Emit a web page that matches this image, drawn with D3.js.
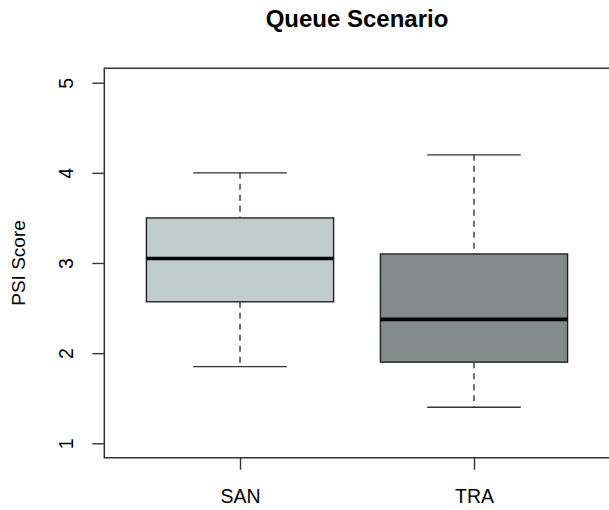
<!DOCTYPE html>
<html>
<head>
<meta charset="utf-8">
<script src="https://cdn.jsdelivr.net/npm/d3@7"></script>
<style>
  html, body { margin: 0; padding: 0; background: #fff; overflow: hidden; }
  svg { display: block; overflow: hidden; font-family: "Liberation Sans", Arial, Helvetica, sans-serif; }
</style>
</head>
<body>
<svg id="chart" width="609" height="510"></svg>
<script>
// box statistics
const categories = ["SAN", "TRA"];
const lowerWhisker = [1.85, 1.4];
const q1 = [2.57, 1.9];
const median = [3.05, 2.375];
const q3 = [3.5, 3.1];
const upperWhisker = [4.0, 4.2];
const fills = ["#C1CDCD", "#838B8B"];
const yTicks = [1, 2, 3, 4, 5];

const svg = d3.select("#chart");
const plot = { left: 104.3, right: 609.7, top: 68.3, bottom: 457.7 };

// R style ranges: 4% padding around [0.5, 2.5] and [1, 5]
const x = d3.scaleLinear().domain([0.42, 2.58]).range([plot.left, plot.right]);
const y = d3.scaleLinear().domain([0.84, 5.16]).range([plot.bottom, plot.top]);

const boxes = categories.map((c, i) => ({
  name: c,
  pos: i + 1,
  lo: lowerWhisker[i],
  q1: q1[i],
  med: median[i],
  q3: q3[i],
  hi: upperWhisker[i],
  fill: fills[i],
}));

const g = svg.append("g");

const box = g.selectAll("g.box").data(boxes).enter().append("g").attr("class", "box");

// dashed whiskers
box.append("line")
  .attr("x1", (d) => x(d.pos)).attr("x2", (d) => x(d.pos))
  .attr("y1", (d) => y(d.hi)).attr("y2", (d) => y(d.q3))
  .attr("stroke", "#333").attr("stroke-width", 1.4).attr("stroke-dasharray", "6,5");
box.append("line")
  .attr("x1", (d) => x(d.pos)).attr("x2", (d) => x(d.pos))
  .attr("y1", (d) => y(d.q1)).attr("y2", (d) => y(d.lo))
  .attr("stroke", "#333").attr("stroke-width", 1.4).attr("stroke-dasharray", "6,5");

// staples
["hi", "lo"].forEach((k) => {
  box.append("line")
    .attr("x1", (d) => x(d.pos - 0.2)).attr("x2", (d) => x(d.pos + 0.2))
    .attr("y1", (d) => y(d[k])).attr("y2", (d) => y(d[k]))
    .attr("stroke", "#333").attr("stroke-width", 1.4);
});

// boxes
box.append("rect")
  .attr("x", (d) => x(d.pos - 0.4))
  .attr("width", (d) => x(d.pos + 0.4) - x(d.pos - 0.4))
  .attr("y", (d) => y(d.q3))
  .attr("height", (d) => y(d.q1) - y(d.q3))
  .attr("fill", (d) => d.fill)
  .attr("stroke", "#222").attr("stroke-width", 1.4);

// medians
box.append("line")
  .attr("x1", (d) => x(d.pos - 0.4)).attr("x2", (d) => x(d.pos + 0.4))
  .attr("y1", (d) => y(d.med)).attr("y2", (d) => y(d.med))
  .attr("stroke", "#000").attr("stroke-width", 3.6);

// frame: left, top and bottom only; the right side is cut off in the original
g.append("path")
  .attr("d", `M${plot.right + 10},${plot.top}H${plot.left}V${plot.bottom}H${plot.right + 10}`)
  .attr("fill", "none").attr("stroke", "#333").attr("stroke-width", 1.5);

// y axis, labels rotated like R's las=0
const yAxis = svg.append("g")
  .attr("transform", `translate(${plot.left},0)`)
  .call(d3.axisLeft(y).tickValues(yTicks).tickSize(12).tickFormat(d3.format("d")));
yAxis.select(".domain").remove();
yAxis.selectAll(".tick line").attr("stroke", "#333").attr("stroke-width", 1.4);
yAxis.selectAll(".tick text")
  .attr("x", null).attr("dy", null)
  .attr("transform", "translate(-31,0) rotate(-90)")
  .attr("text-anchor", "middle")
  .attr("fill", "#000")
  .style("font-size", "19.5px")
  .style("font-family", "\"Liberation Sans\", Arial, sans-serif");

// x axis
const xAxis = svg.append("g")
  .attr("transform", `translate(0,${plot.bottom})`)
  .call(d3.axisBottom(x).tickValues(boxes.map((d) => d.pos)).tickSize(12)
    .tickFormat((d) => categories[d - 1]));
xAxis.select(".domain").remove();
xAxis.selectAll(".tick line").attr("stroke", "#333").attr("stroke-width", 1.4);
xAxis.selectAll(".tick text")
  .attr("y", 45.5).attr("dy", null)
  .attr("fill", "#000")
  .style("font-size", "19.5px")
  .style("font-family", "\"Liberation Sans\", Arial, sans-serif");

// titles
svg.append("text")
  .attr("x", (plot.left + plot.right) / 2).attr("y", 27)
  .attr("text-anchor", "middle")
  .style("font-size", "24px").style("font-weight", "bold")
  .text("Queue Scenario");

svg.append("text")
  .attr("transform", `translate(25,${(plot.top + plot.bottom) / 2}) rotate(-90)`)
  .attr("text-anchor", "middle")
  .style("font-size", "19px")
  .text("PSI Score");
</script>
</body>
</html>
